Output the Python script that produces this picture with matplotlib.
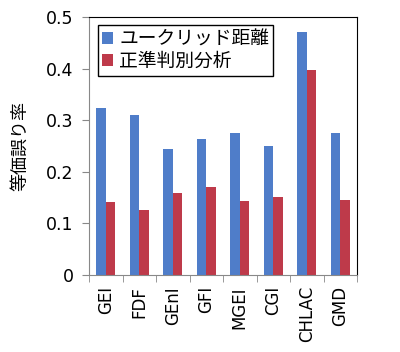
import matplotlib
matplotlib.use("Agg")
import matplotlib.pyplot as plt
import numpy as np

plt.rcParams['font.family'] = ['DejaVu Sans', 'Noto Sans CJK JP']

categories = ["GEI", "FDF", "GEnI", "GFI", "MGEI", "CGI", "CHLAC", "GMD"]
euclid = [0.324, 0.310, 0.244, 0.263, 0.275, 0.250, 0.471, 0.275]
lda = [0.141, 0.126, 0.159, 0.171, 0.143, 0.151, 0.397, 0.145]
series_names = ["ユークリッド距離", "正準判別分析"]
yticks = [0, 0.1, 0.2, 0.3, 0.4, 0.5]
ytick_labels = ["0", "0.1", "0.2", "0.3", "0.4", "0.5"]

fig = plt.figure(figsize=(4.0, 3.52), dpi=100)
ax = fig.add_axes([0.2225, 0.2188, 0.67, 0.733])

x = np.arange(len(categories))
w = 0.29
ax.bar(x - w/2, euclid, w, color="#4F7DC9", label=series_names[0])
ax.bar(x + w/2, lda, w, color="#BE3A4A", label=series_names[1])

ax.set_xlim(-0.5, len(categories) - 0.5)
ax.set_ylim(0, 0.5)
ax.set_yticks(yticks)
ax.set_yticklabels(ytick_labels, fontsize=12.5)
ax.set_xticks(x)
ax.set_xticklabels(categories, rotation=90, fontsize=12)
ax.tick_params(axis='x', length=0, pad=8)
ax.set_xticks(np.arange(-0.5, len(categories)), minor=True)
ax.tick_params(axis='x', which='minor', length=5, color="#888888")
ax.tick_params(axis='y', length=5, color="#888888", pad=6)

for s in ['left', 'bottom']:
    ax.spines[s].set_color("#888888")
for s in ['top', 'right']:
    ax.spines[s].set_color("black")

ax.set_ylabel("等価誤り率", fontsize=13, family=['Noto Sans CJK JP'], labelpad=12)

leg = ax.legend(loc='upper left', bbox_to_anchor=(0.012, 0.99), prop={'family': 'Noto Sans CJK JP', 'size': 13.5},
                frameon=True, fancybox=False, framealpha=1, edgecolor='black',
                handlelength=0.6, handleheight=0.6, handletextpad=0.35, borderpad=0.2, labelspacing=0.05,
                borderaxespad=0.3)
leg.get_frame().set_linewidth(1.0)

fig.savefig("out.png", dpi=100)
